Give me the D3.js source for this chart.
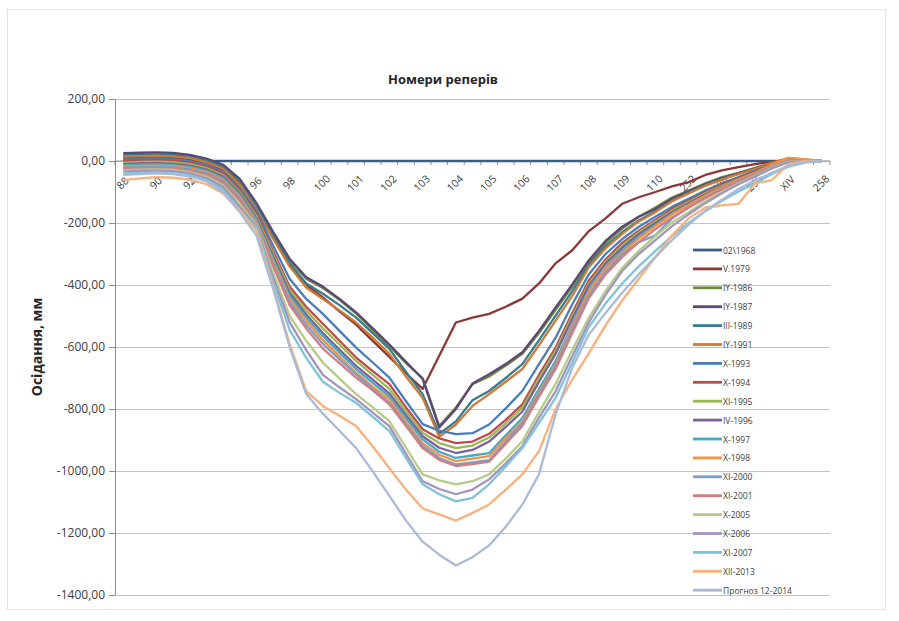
<!DOCTYPE html>
<html>
<head>
<meta charset="utf-8">
<script src="https://cdn.jsdelivr.net/npm/d3@7"></script>
<style>
  body { margin: 0; background: #fff; }
  text { font-family: "Open Sans", "Liberation Sans", sans-serif; }
</style>
</head>
<body>
<div id="chart"></div>
<script>
// Номери реперів (categories); only every second one is labelled on the axis
const categories = ["88","89","90","91","92","93","94","95","96","97","98","99","100","100а","101","101а","102","102а","103","103а","104","104а","105","105а","106","106а","107","107а","108","108а","109","109а","110","251","252","253","XIII","254","255","256","XIV","257","258"];

const seriesNames = ["02\\1968","V.1979","IY-1986","IY-1987","III-1989","IY-1991","X-1993","X-1994","XI-1995","IV-1996","X-1997","X-1998","XI-2000","XI-2001","X-2005","X-2006","XI-2007","XII-2013","Прогноз 12-2014"];

const seriesColors = ["#385d8a","#8c3836","#71893f","#5c4776","#357d91","#d07a35","#4a7ebb","#be4b48","#98b954","#7d60a0","#46aac5","#f69240","#7e9ccc","#d07f7e","#b5cc88","#a393bf","#7fc4d6","#f9b07a","#a9bad9"];

const yTicks = [200, 0, -200, -400, -600, -800, -1000, -1200, -1400];

// осідання, мм
const s1968 = [0,0,0,0,0,0,0,0,0,0,0,0,0,0,0,0,0,0,0,0,0,0,0,0,0,0,0,0,0,0,0,0,0,0,0,0,0,0,0,0,0,0,0];
const s1979 = [10,12,13,11,5,-6,-28,-78,-150,-245,-335,-400,-440,-485,-528,-580,-632,-685,-735,-628,-521,-505,-493,-470,-444,-395,-330,-288,-226,-185,-138,-117,-100,-82,-68,-45,-30,-20,-10,-2,2,1,0];
const s1986 = [22,24,25,23,17,5,-15,-62,-140,-232,-320,-380,-410,-448,-492,-545,-597,-652,-700,-855,-795,-720,-695,-660,-622,-555,-480,-405,-328,-265,-218,-180,-150,-118,-95,-72,-52,-38,-22,-6,5,2,0];
const s1987 = [25,27,28,26,20,8,-12,-58,-135,-228,-315,-375,-405,-445,-488,-540,-592,-648,-703,-860,-800,-718,-688,-655,-617,-548,-472,-398,-320,-258,-212,-180,-155,-122,-98,-75,-55,-40,-24,-8,4,2,0];
const s1989 = [18,20,21,19,13,0,-20,-70,-148,-242,-330,-395,-428,-465,-505,-555,-606,-680,-752,-880,-840,-772,-742,-700,-655,-578,-499,-420,-335,-275,-230,-192,-162,-128,-102,-78,-58,-42,-25,-8,5,2,0];
const s1991 = [14,16,17,15,9,-4,-25,-76,-155,-250,-340,-408,-445,-482,-521,-570,-622,-695,-764,-890,-850,-790,-752,-712,-671,-594,-515,-435,-342,-282,-235,-195,-165,-130,-105,-80,-60,-42,-25,-6,9,5,0];
const s1993 = [5,7,8,6,0,-12,-35,-88,-160,-272,-380,-445,-493,-548,-602,-650,-699,-775,-849,-870,-881,-878,-850,-798,-742,-655,-570,-462,-365,-300,-252,-212,-180,-148,-122,-95,-72,-52,-32,-12,3,2,0];
const s1994 = [0,2,3,1,-5,-18,-40,-95,-170,-290,-405,-470,-525,-580,-634,-678,-720,-795,-865,-895,-910,-905,-880,-835,-785,-690,-602,-490,-385,-318,-264,-225,-190,-155,-128,-100,-76,-55,-35,-14,2,2,0];
const s1995 = [-5,-3,-2,-4,-10,-23,-45,-100,-178,-298,-415,-482,-540,-592,-645,-690,-735,-808,-877,-910,-926,-918,-892,-846,-795,-700,-612,-500,-395,-326,-272,-230,-195,-160,-132,-104,-80,-58,-37,-15,2,2,0];
const s1996 = [-10,-8,-7,-9,-15,-28,-50,-105,-185,-306,-425,-495,-555,-608,-661,-705,-750,-820,-888,-925,-942,-932,-905,-858,-808,-712,-622,-510,-402,-332,-280,-236,-200,-165,-136,-108,-83,-60,-39,-16,2,1,0];
const s1997 = [-14,-12,-11,-13,-19,-32,-55,-110,-190,-314,-435,-505,-565,-618,-671,-716,-760,-830,-898,-938,-958,-950,-942,-885,-829,-735,-645,-528,-415,-344,-290,-244,-206,-170,-140,-112,-86,-62,-40,-17,4,2,0];
const s1998 = [-18,-16,-15,-17,-23,-36,-60,-116,-195,-322,-445,-515,-578,-630,-683,-728,-770,-842,-910,-948,-968,-960,-952,-895,-839,-745,-655,-535,-420,-348,-296,-250,-210,-172,-142,-112,-85,-60,-38,-12,10,5,0];
const s2000 = [-22,-20,-19,-21,-27,-40,-65,-122,-198,-330,-455,-528,-590,-640,-688,-735,-780,-850,-918,-958,-979,-972,-965,-905,-845,-752,-661,-545,-432,-358,-302,-262,-240,-185,-150,-118,-90,-64,-42,-18,2,1,0];
const s2001 = [-26,-24,-23,-25,-31,-44,-70,-128,-202,-338,-465,-540,-605,-652,-699,-740,-785,-855,-926,-964,-984,-978,-970,-912,-855,-760,-671,-555,-442,-366,-310,-262,-220,-182,-150,-120,-92,-66,-44,-20,0,0,0];
const s2005 = [-30,-28,-27,-29,-36,-50,-78,-140,-205,-360,-500,-580,-650,-702,-752,-795,-839,-925,-1011,-1030,-1043,-1033,-1011,-960,-904,-810,-719,-610,-505,-420,-345,-290,-242,-198,-165,-130,-100,-72,-48,-22,-2,0,0];
const s2006 = [-34,-32,-31,-33,-40,-55,-84,-148,-210,-375,-520,-610,-690,-730,-768,-812,-855,-945,-1033,-1058,-1075,-1060,-1027,-975,-920,-828,-742,-630,-520,-432,-355,-300,-255,-210,-172,-136,-104,-75,-50,-24,-4,0,0];
const s2007 = [-40,-38,-37,-39,-46,-62,-92,-158,-215,-390,-545,-635,-712,-748,-780,-825,-871,-958,-1043,-1075,-1098,-1087,-1043,-985,-926,-845,-764,-650,-535,-460,-395,-340,-290,-242,-200,-162,-128,-98,-72,-42,-18,-5,0];
const s2013 = [-62,-56,-52,-54,-60,-75,-105,-160,-225,-405,-590,-742,-790,-822,-855,-920,-991,-1060,-1121,-1140,-1160,-1135,-1108,-1060,-1011,-936,-800,-705,-620,-530,-450,-380,-310,-240,-185,-150,-143,-138,-72,-62,-10,0,0];
const s2014 = [-45,-42,-40,-42,-50,-66,-100,-165,-240,-410,-600,-752,-815,-870,-926,-1001,-1080,-1160,-1228,-1270,-1305,-1278,-1240,-1180,-1108,-1011,-816,-667,-560,-490,-425,-365,-310,-255,-205,-160,-125,-90,-62,-38,-15,-3,0];

const seriesValues = [s1968,s1979,s1986,s1987,s1989,s1991,s1993,s1994,s1995,s1996,s1997,s1998,s2000,s2001,s2005,s2006,s2007,s2013,s2014];

const W = 899, H = 621;
const plot = { left: 115, right: 830, top: 99, bottom: 595 };

const svg = d3.select("#chart").append("svg")
    .attr("width", W)
    .attr("height", H);

svg.append("rect").attr("width", W).attr("height", H).attr("fill", "#fff");

// рамка області діаграми
svg.append("rect")
    .attr("x", 7.5).attr("y", 9.5)
    .attr("width", 878).attr("height", 600)
    .attr("fill", "none")
    .attr("stroke", "#e3e3e3");

const x = d3.scalePoint()
    .domain(categories)
    .range([plot.left, plot.right])
    .padding(0.5);

const y = d3.scaleLinear()
    .domain([-1400, 200])
    .range([plot.bottom, plot.top]);

const uaLocale = d3.formatLocale({ decimal: ",", thousands: "", grouping: [3], currency: ["", ""], minus: "-" });
const fmt = uaLocale.format(".2f");

// сітка
svg.append("g")
    .selectAll("line")
    .data(yTicks)
    .join("line")
    .attr("x1", plot.left).attr("x2", plot.right)
    .attr("y1", d => Math.round(y(d)) + 0.5)
    .attr("y2", d => Math.round(y(d)) + 0.5)
    .attr("stroke", "#c4c4c4")
    .attr("stroke-width", 1.2);

// вісь Y
const yAxis = d3.axisLeft(y)
    .tickValues(yTicks)
    .tickSize(6)
    .tickPadding(4)
    .tickFormat(fmt);

const gy = svg.append("g")
    .attr("transform", `translate(${plot.left},0)`)
    .call(yAxis);
gy.select(".domain").attr("stroke", "#8c8c8c");
gy.selectAll(".tick line").attr("stroke", "#8c8c8c");
gy.selectAll(".tick text")
    .attr("fill", "#404040")
    .style("font-size", "12px");

// вісь X (перетинає Y в нулі)
const step = x.step();
const boundaries = d3.range(categories.length + 1).map(i => plot.left + i * step);
const gx = svg.append("g");
gx.append("line")
    .attr("x1", plot.left).attr("x2", plot.right)
    .attr("y1", y(0)).attr("y2", y(0))
    .attr("stroke", "#8c8c8c");
gx.selectAll("line.tk")
    .data(boundaries)
    .join("line")
    .attr("class", "tk")
    .attr("x1", d => d).attr("x2", d => d)
    .attr("y1", y(0)).attr("y2", y(0) + 4)
    .attr("stroke", "#8c8c8c");

gx.selectAll("text")
    .data(categories.filter((c, i) => i % 2 === 0))
    .join("text")
    .attr("transform", d => `translate(${x(d) - 1},${y(0) + 22}) rotate(-45)`)
    .attr("text-anchor", "middle")
    .attr("dominant-baseline", "central")
    .attr("fill", "#404040")
    .style("font-size", "10.5px")
    .text(d => d);

// лінії серій
const line = d3.line()
    .x((d, i) => x(categories[i]))
    .y(d => y(d));

svg.append("g")
    .selectAll("path")
    .data(seriesValues)
    .join("path")
    .attr("d", d => line(d))
    .attr("fill", "none")
    .attr("stroke", (d, i) => seriesColors[i])
    .attr("stroke-width", 2.3)
    .attr("stroke-linejoin", "round");

// заголовок
svg.append("text")
    .attr("x", 443)
    .attr("y", 84)
    .attr("text-anchor", "middle")
    .attr("font-weight", "bold")
    .attr("fill", "#262626")
    .style("font-size", "13px")
    .text("Номери реперів");

svg.append("text")
    .attr("transform", `translate(42,${(plot.top + plot.bottom) / 2}) rotate(-90)`)
    .attr("text-anchor", "middle")
    .attr("font-weight", "bold")
    .attr("fill", "#262626")
    .style("font-size", "14px")
    .text("Осідання, мм");

// легенда
const legend = svg.append("g").attr("transform", "translate(693,250)");
const item = legend.selectAll("g")
    .data(seriesNames)
    .join("g")
    .attr("transform", (d, i) => `translate(0,${i * 18.9})`);
item.append("line")
    .attr("x1", 0).attr("x2", 29)
    .attr("stroke", (d, i) => seriesColors[i])
    .attr("stroke-width", 2.8);
item.append("text")
    .attr("x", 30)
    .attr("dominant-baseline", "central")
    .attr("fill", "#404040")
    .style("font-size", "8.5px")
    .text(d => d);
</script>
</body>
</html>
